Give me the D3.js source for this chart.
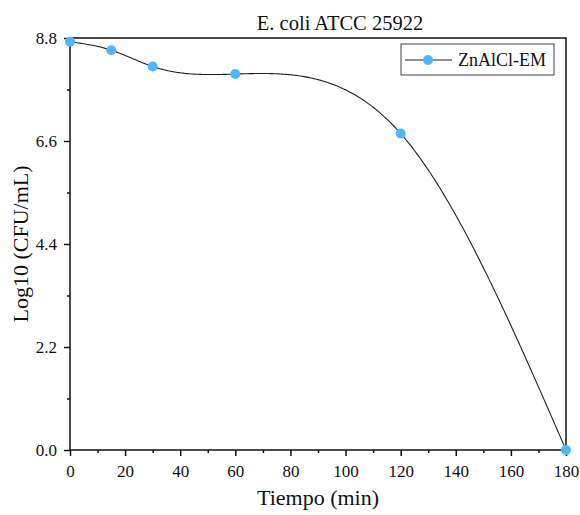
<!DOCTYPE html>
<html>
<head>
<meta charset="utf-8">
<script src="https://cdn.jsdelivr.net/npm/d3@7"></script>
<style>
  body { margin: 0; background: #fff; }
  text { font-family: "Liberation Serif", "DejaVu Serif", serif; fill: #111; }
</style>
</head>
<body>
<svg id="chart" width="580" height="515"></svg>
<script>
// Survival of E. coli ATCC 25922 over time
const times = [0, 15, 30, 60, 120, 180];
const logCFU = [8.72, 8.54, 8.19, 8.03, 6.76, 0.0];
const xTicks = [0, 20, 40, 60, 80, 100, 120, 140, 160, 180];
const yTicks = [0.0, 2.2, 4.4, 6.6, 8.8];
const seriesName = "ZnAlCl-EM";

const svg = d3.select("#chart");
const m = { left: 70, right: 14, top: 38, bottom: 65 };
const W = 580, H = 515;
const x = d3.scaleLinear().domain([0, 180]).range([m.left, W - m.right]);
const y = d3.scaleLinear().domain([0, 8.8]).range([H - m.bottom, m.top]);

// natural cubic spline y(x)
function naturalSpline(xs, ys) {
  const n = xs.length - 1;
  const h = d3.range(n).map(i => xs[i + 1] - xs[i]);
  const a = new Array(n + 1).fill(0), b = new Array(n + 1).fill(1), c = new Array(n + 1).fill(0), r = new Array(n + 1).fill(0);
  for (let i = 1; i < n; i++) {
    a[i] = h[i - 1]; b[i] = 2 * (h[i - 1] + h[i]); c[i] = h[i];
    r[i] = 6 * ((ys[i + 1] - ys[i]) / h[i] - (ys[i] - ys[i - 1]) / h[i - 1]);
  }
  // Thomas algorithm
  const cp = new Array(n + 1).fill(0), rp = new Array(n + 1).fill(0);
  cp[0] = c[0] / b[0]; rp[0] = r[0] / b[0];
  for (let i = 1; i <= n; i++) {
    const den = b[i] - a[i] * cp[i - 1];
    cp[i] = c[i] / den; rp[i] = (r[i] - a[i] * rp[i - 1]) / den;
  }
  const M = new Array(n + 1).fill(0);
  M[n] = rp[n];
  for (let i = n - 1; i >= 0; i--) M[i] = rp[i] - cp[i] * M[i + 1];
  return t => {
    let i = Math.min(n - 1, Math.max(0, d3.bisectRight(xs, t) - 1));
    const hi = h[i], A = (xs[i + 1] - t) / hi, B = (t - xs[i]) / hi;
    return A * ys[i] + B * ys[i + 1] + ((A ** 3 - A) * M[i] + (B ** 3 - B) * M[i + 1]) * hi * hi / 6;
  };
}
const f = naturalSpline(times, logCFU);
const curvePts = d3.range(0, 180.01, 0.5).map(t => [t, f(t)]);

// axes
svg.append("g").attr("transform", `translate(0,${H - m.bottom})`)
  .call(d3.axisBottom(x).tickValues(xTicks).tickSize(6).tickPadding(9).tickFormat(d3.format("d")));
svg.append("g").attr("transform", `translate(0,${H - m.bottom})`)
  .call(d3.axisBottom(x).tickValues(d3.range(10, 180, 20)).tickSize(3).tickFormat(""));
svg.append("g").attr("transform", `translate(${m.left},0)`)
  .call(d3.axisLeft(y).tickValues(yTicks).tickSize(6).tickPadding(7).tickFormat(d3.format(".1f")));
svg.append("g").attr("transform", `translate(${m.left},0)`)
  .call(d3.axisLeft(y).tickValues([1.1, 3.3, 5.5, 7.7]).tickSize(3).tickFormat(""));
svg.selectAll(".domain").remove();
svg.selectAll(".tick line").attr("stroke", "#111").attr("stroke-width", 1.5);
svg.selectAll(".tick text").attr("font-size", 17).attr("fill", "#111")
  .attr("font-family", "Liberation Serif, DejaVu Serif, serif");

// frame
svg.append("rect").attr("x", x(0)).attr("y", y(8.8))
  .attr("width", x(180) - x(0)).attr("height", y(0) - y(8.8))
  .attr("fill", "none").attr("stroke", "#111").attr("stroke-width", 1.5);

// curve and markers
svg.append("path").datum(curvePts)
  .attr("d", d3.line().x(d => x(d[0])).y(d => y(d[1])))
  .attr("fill", "none").attr("stroke", "#222").attr("stroke-width", 1.1);
svg.selectAll("circle.pt").data(times.map((t, i) => [t, logCFU[i]])).join("circle")
  .attr("class", "pt").attr("cx", d => x(d[0])).attr("cy", d => y(d[1])).attr("r", 5)
  .attr("fill", "#4db8ff");

// titles
svg.append("text").attr("x", 340).attr("y", 30).attr("text-anchor", "middle")
  .attr("font-size", 20.5).text("E. coli ATCC 25922");
svg.append("text").attr("x", 318).attr("y", 505).attr("text-anchor", "middle")
  .attr("font-size", 22).text("Tiempo (min)");
svg.append("text").attr("transform", "translate(28,244) rotate(-90)").attr("text-anchor", "middle")
  .attr("font-size", 22).text("Log10 (CFU/mL)");

// legend
const lg = svg.append("g").attr("transform", "translate(401,44)");
lg.append("rect").attr("width", 153).attr("height", 31).attr("fill", "#fff")
  .attr("stroke", "#444").attr("stroke-width", 1);
lg.append("line").attr("x1", 4).attr("x2", 51).attr("y1", 16).attr("y2", 16)
  .attr("stroke", "#222").attr("stroke-width", 1.1);
lg.append("circle").attr("cx", 27).attr("cy", 16).attr("r", 5).attr("fill", "#4db8ff");
lg.append("text").attr("x", 57).attr("y", 22).attr("font-size", 18).text(seriesName);
</script>
</body>
</html>
